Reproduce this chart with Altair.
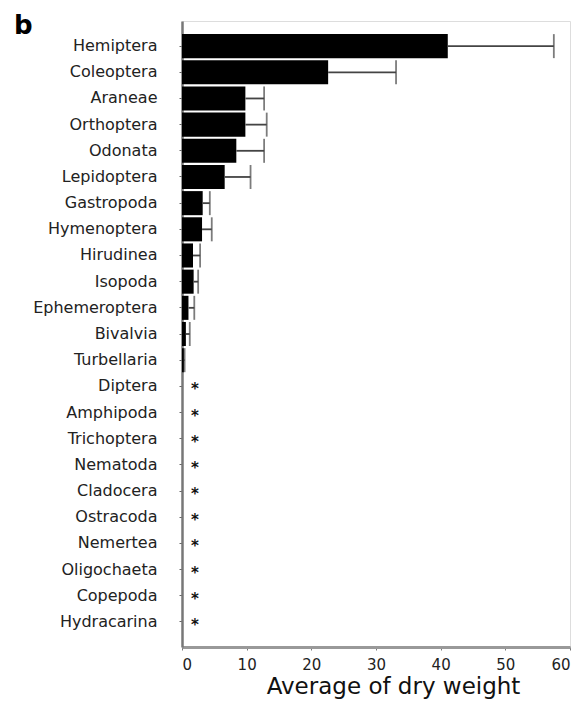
import altair as alt
import pandas as pd

taxa = ["Hemiptera", "Coleoptera", "Araneae", "Orthoptera", "Odonata", "Lepidoptera",
        "Gastropoda", "Hymenoptera", "Hirudinea", "Isopoda", "Ephemeroptera", "Bivalvia",
        "Turbellaria", "Diptera", "Amphipoda", "Trichoptera", "Nematoda", "Cladocera",
        "Ostracoda", "Nemertea", "Oligochaeta", "Copepoda", "Hydracarina"]
means = [41.1, 22.6, 9.8, 9.8, 8.4, 6.6, 3.2, 3.1, 1.7, 1.8, 1.0, 0.6, 0.3,
         0, 0, 0, 0, 0, 0, 0, 0, 0, 0]
errors = [16.4, 10.5, 2.9, 3.3, 4.3, 4.0, 1.1, 1.5, 1.1, 0.7, 0.9, 0.6, 0.1,
          0, 0, 0, 0, 0, 0, 0, 0, 0, 0]
markers = [""] * 13 + ["*"] * 10

df = pd.DataFrame({"taxon": taxa, "mean": means, "err": errors, "mark": markers})
df["upper"] = df["mean"] + df["err"]

FONT = "DejaVu Sans"

y_enc = alt.Y("taxon:N", sort=taxa, title=None,
              scale=alt.Scale(paddingInner=0.08, paddingOuter=0.5),
              axis=alt.Axis(labelFont=FONT, labelFontSize=16, labelColor="#222222",
                            labelPadding=22, tickSize=3, tickColor="#666666",
                            domainColor="#777777", domainWidth=2.5, labelLimit=300))
x_enc = alt.X("mean:Q", title="Average of dry weight",
              scale=alt.Scale(domain=[0, 60], nice=False),
              axis=alt.Axis(values=[0, 10, 20, 30, 40, 50, 60], labelFont=FONT,
                            labelFontSize=15, labelColor="#222222", tickSize=3,
                            tickColor="#777777", labelPadding=7,
                            domainColor="#999999", domainWidth=3, grid=False,
                            titleFont=FONT, titleFontSize=23, titleFontWeight="normal",
                            titleColor="#111111", titlePadding=3, titleX=211))

base = alt.Chart(df)

bars = base.mark_bar(color="#000000").encode(x=x_enc, y=y_enc)

nz = base.transform_filter("datum.err > 0")
err_line = nz.mark_rule(color="#444444", strokeWidth=1.8).encode(
    x="mean:Q", x2="upper:Q", y=alt.Y("taxon:N", sort=taxa))
err_cap = nz.mark_tick(color="#444444", thickness=1.8, size=24, orient="vertical").encode(
    x="upper:Q", y=alt.Y("taxon:N", sort=taxa))

stars = base.transform_filter("datum.mark != ''").mark_text(
    font=FONT, fontSize=15, fontWeight="bold", color="#111111", dx=13, dy=3,
    baseline="middle").encode(x="mean:Q", y=alt.Y("taxon:N", sort=taxa), text="mark:N")

chart = alt.layer(bars, err_line, err_cap, stars).properties(
    width=388, height=626,
    title=alt.TitleParams("b", font=FONT, fontSize=26, fontWeight="bold", color="#000000",
                          anchor="start", frame="group", offset=0, dx=-168, dy=39,
                          baseline="alphabetic"),
    autosize=alt.AutoSizeParams(type="none"),
    padding={"left": 174, "top": 13, "right": 9, "bottom": 58},
).configure_view(stroke="transparent", strokeWidth=0).configure(background="white")

chart.save("out.html", embed_options={"renderer": "svg", "actions": False})
